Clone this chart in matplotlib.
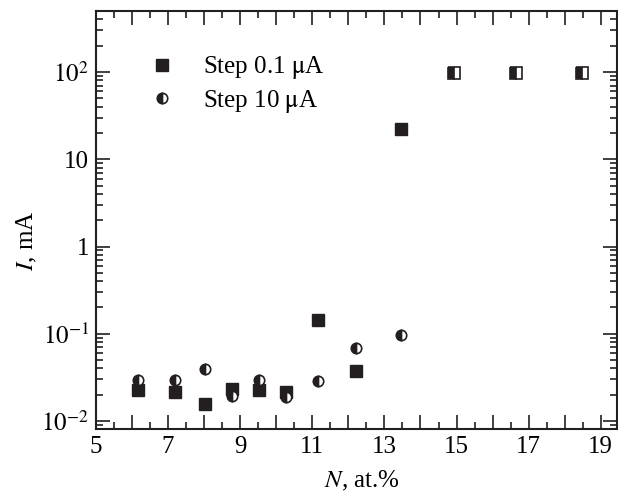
import numpy as np
import matplotlib
matplotlib.use('Agg')
from matplotlib import pyplot as plt
from matplotlib.ticker import FixedLocator, FixedFormatter, LogLocator, NullFormatter

plt.rcParams['font.family'] = ['Liberation Serif', 'DejaVu Serif']
plt.rcParams['mathtext.fontset'] = 'stix'

# Step 0.1 uA (filled squares)
n_step01 = [6.17, 7.2, 8.03, 8.76, 9.51, 10.28, 11.17, 12.22, 13.46]
i_step01 = [0.0226, 0.0216, 0.0157, 0.023, 0.0226, 0.0216, 0.143, 0.0376, 22.3]

# Step 10 uA (half-filled circles)
n_step10 = [6.17, 7.2, 8.03, 8.76, 9.51, 10.28, 11.17, 12.22, 13.46]
i_step10 = [0.0294, 0.0294, 0.039, 0.0193, 0.0294, 0.0188, 0.0288, 0.0678, 0.096]

# both series saturate at the current limit
n_sat = [14.93, 16.64, 18.48]
i_sat = [98, 98, 98]

x_ticks = list(range(5, 20))
x_labels = [str(v) if v % 2 == 1 else '' for v in x_ticks]
y_ticks = [1e-2, 1e-1, 1, 10, 100]
y_labels = [r'$10^{-2}$', r'$10^{-1}$', '1', '10', r'$10^{2}$']

fig = plt.figure(figsize=(6.18, 4.97), dpi=100)
ax = fig.add_axes([96 / 618, 1 - 429 / 497, 521 / 618, 418 / 497])

ax.plot(n_step01, i_step01, ls='none', marker='s', ms=8, mfc='#231f20',
        mec='#231f20', label=r'Step 0.1 $\mathrm{\mu}$A', zorder=3)
ax.plot(n_step10, i_step10, ls='none', marker='o', ms=7.5, mfc='#231f20',
        mfcalt='white', fillstyle='left', mec='#231f20', mew=1.2,
        label=r'Step 10 $\mathrm{\mu}$A', zorder=4)
ax.plot(n_sat, i_sat, ls='none', marker='s', ms=8, mfc='#231f20',
        mfcalt='white', fillstyle='left', mec='#231f20', mew=1.2, zorder=4)

ax.set_yscale('log')
ax.set_xlim(5, 19.45)
ax.set_ylim(0.0081, 500)

ax.xaxis.set_major_locator(FixedLocator(x_ticks))
ax.xaxis.set_major_formatter(FixedFormatter(x_labels))
ax.xaxis.set_minor_locator(FixedLocator(np.arange(5.5, 19.5, 1.0)))
ax.yaxis.set_major_locator(FixedLocator(y_ticks))
ax.yaxis.set_major_formatter(FixedFormatter(y_labels))
ax.yaxis.set_minor_locator(LogLocator(base=10, subs=np.arange(2, 10)))
ax.yaxis.set_minor_formatter(NullFormatter())

ax.tick_params(which='both', direction='in', top=True, right=True,
               width=1.2, color='#231f20')
ax.tick_params(which='major', length=10, labelsize=18, pad=5)
ax.tick_params(which='minor', length=5)
for s in ax.spines.values():
    s.set_linewidth(1.5)
    s.set_color('#231f20')

ax.set_xlabel(r'$N$, at.%', fontsize=18)
ax.set_ylabel(r'$I$, mA', fontsize=18)
ax.xaxis.set_label_coords(0.51, -0.095)
ax.yaxis.set_label_coords(-0.11, 0.45)

ax.legend(loc='upper left', bbox_to_anchor=(0.035, 0.95), frameon=False,
          fontsize=18, handletextpad=0.65, labelspacing=0.25, markerscale=1.0)

fig.savefig('out.png', dpi=100)
